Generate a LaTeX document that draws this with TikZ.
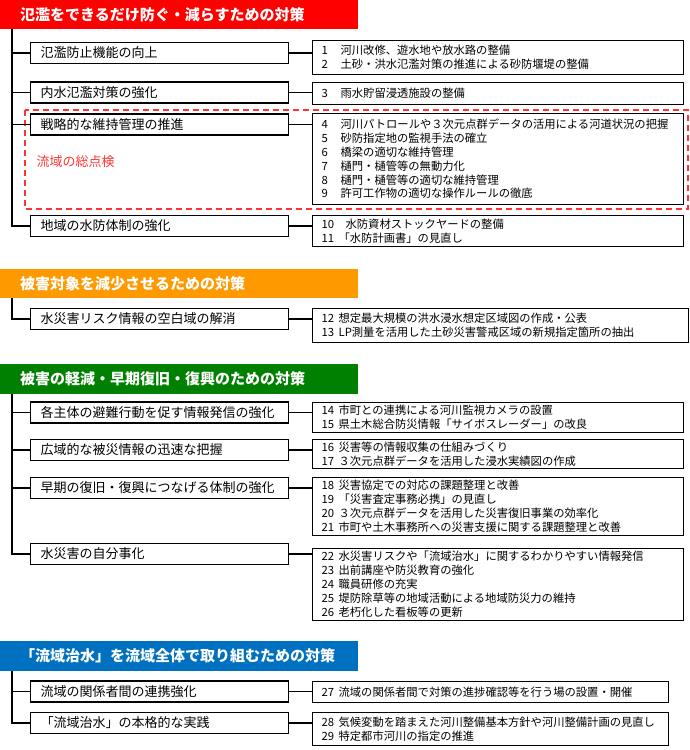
\documentclass[tikz,border=0pt]{standalone}
\usepackage{fontspec}
\setmainfont{Noto Sans CJK JP}
\usetikzlibrary{calc}
\definecolor{headred}{RGB}{255,0,0}
\definecolor{headorange}{RGB}{255,153,0}
\definecolor{headgreen}{RGB}{0,128,0}
\definecolor{headblue}{RGB}{0,112,192}
\definecolor{checkred}{RGB}{255,51,51}
\newcommand{\rowno}[2][17pt]{\makebox[#1][l]{#2}}

\begin{document}
\begin{tikzpicture}[x=1pt, y=-1pt,
    head/.style={anchor=north west, minimum width=358pt, inner xsep=20pt, inner ysep=0pt,
      text width=318pt, align=left, text=white, font=\fontsize{15}{18}\selectfont\bfseries},
    lbox/.style={draw, line width=1.3pt, anchor=west, minimum height=21pt, inner xsep=10pt,
      inner ysep=0pt, text width=238pt, align=left, font=\fontsize{13}{15}\selectfont},
    rbox/.style={draw, line width=1.3pt, anchor=north west, inner xsep=9pt, inner ysep=0pt,
      text width=353pt, align=left, font=\fontsize{11.3}{14}\selectfont},
    link/.style={line width=1.3pt}]
  \useasboundingbox (0,0) rectangle (690,750);

  % --- section 1
  \node[head, fill=headred, minimum height=29pt] (h1) at (0,0) {氾濫をできるだけ防ぐ・減らすための対策};
  \draw[checkred, line width=1.6pt, dash pattern=on 6pt off 4pt] (25,110) rectangle (688,209);
  \node[anchor=west, text=checkred, font=\fontsize{13}{15}\selectfont] (chk) at (33,162) {流域の総点検};
  \node[lbox] (lb11) at (30,53) {氾濫防止機能の向上};
  \node[lbox] (lb12) at (30,92.5) {内水氾濫対策の強化};
  \node[lbox] (lb13) at (30,124.5) {戦略的な維持管理の推進};
  \node[lbox] (lb14) at (30,226) {地域の水防体制の強化};
  \node[rbox, minimum height=34pt] (rb11) at (312,40) {\rowno[19pt]{1}河川改修、遊水地や放水路の整備\\
    \rowno[19pt]{2}土砂・洪水氾濫対策の推進による砂防堰堤の整備};
  \node[rbox, minimum height=22pt] (rb12) at (312,82) {\rowno[19pt]{3}雨水貯留浸透施設の整備};
  \node[rbox, minimum height=91pt, font=\fontsize{11.3}{13.8}\selectfont] (rb13) at (312,113) {%
    \rowno[19pt]{4}河川パトロールや３次元点群データの活用による河道状況の把握\\
    \rowno[19pt]{5}砂防指定地の監視手法の確立\\
    \rowno[19pt]{6}橋梁の適切な維持管理\\
    \rowno[19pt]{7}樋門・樋管等の無動力化\\
    \rowno[19pt]{8}樋門・樋管等の適切な維持管理\\
    \rowno[19pt]{9}許可工作物の適切な操作ルールの徹底};
  \node[rbox, minimum height=31pt] (rb14) at (312,215) {\rowno[24pt]{10}水防資材ストックヤードの整備\\
    \rowno[17pt]{11}「水防計画書」の見直し};
  \coordinate (s1) at ($(h1.south west)+(12,0)$);
  \draw[link] (s1) |- (lb14.west);
  \foreach \b in {lb11,lb12,lb13}
    \draw[link] (s1 |- \b.west) -- (\b.west);
  \foreach \b in {11,12,13,14}
    \draw[link] (lb\b.east) -- (lb\b.east -| rb\b.west);

  % --- section 2
  \node[head, fill=headorange, minimum height=29pt] (h2) at (0,269) {被害対象を減少させるための対策};
  \node[lbox] (lb21) at (30,319) {水災害リスク情報の空白域の解消};
  \node[rbox, minimum height=34pt, text width=358pt] (rb21) at (312,308) {%
    \rowno{12}想定最大規模の洪水浸水想定区域図の作成・公表\\
    \rowno{13}LP測量を活用した土砂災害警戒区域の新規指定箇所の抽出};
  \coordinate (s2) at ($(h2.south west)+(12,0)$);
  \draw[link] (s2) |- (lb21.west);
  \draw[link] (lb21.east) -- (lb21.east -| rb21.west);

  % --- section 3
  \node[head, fill=headgreen, minimum height=30pt] (h3) at (0,364) {被害の軽減・早期復旧・復興のための対策};
  \node[lbox] (lb31) at (30,412.5) {各主体の避難行動を促す情報発信の強化};
  \node[lbox] (lb32) at (30,450) {広域的な被災情報の迅速な把握};
  \node[lbox] (lb33) at (30,488) {早期の復旧・復興につなげる体制の強化};
  \node[lbox] (lb34) at (30,554) {水災害の自分事化};
  \begin{scope}[every node/.append style={font=\fontsize{10.8}{13.5}\selectfont}]
    \node[rbox, minimum height=30pt] (rb31) at (312,402) {\rowno{14}市町との連携による河川監視カメラの設置\\
      \rowno{15}県土木総合防災情報「サイボスレーダー」の改良};
    \node[rbox, minimum height=29pt] (rb32) at (312,439) {\rowno{16}災害等の情報収集の仕組みづくり\\
      \rowno{17}３次元点群データを活用した浸水実績図の作成};
    \node[rbox, minimum height=58pt] (rb33) at (312,477) {\rowno{18}災害協定での対応の課題整理と改善\\
      \rowno{19}「災害査定事務必携」の見直し\\
      \rowno{20}３次元点群データを活用した災害復旧事業の効率化\\
      \rowno{21}市町や土木事務所への災害支援に関する課題整理と改善};
    \node[rbox, minimum height=72pt] (rb34) at (312,548) {\rowno{22}水災害リスクや「流域治水」に関するわかりやすい情報発信\\
      \rowno{23}出前講座や防災教育の強化\\
      \rowno{24}職員研修の充実\\
      \rowno{25}堤防除草等の地域活動による地域防災力の維持\\
      \rowno{26}老朽化した看板等の更新};
  \end{scope}
  \coordinate (s3) at ($(h3.south west)+(12,0)$);
  \draw[link] (s3) |- (lb34.west);
  \foreach \b in {lb31,lb32,lb33}
    \draw[link] (s3 |- \b.west) -- (\b.west);
  \foreach \b in {31,32,33,34}
    \draw[link] (lb\b.east) -- (lb\b.east -| rb\b.west);

  % --- section 4
  \node[head, fill=headblue, minimum height=30pt] (h4) at (0,641) {「流域治水」を流域全体で取り組むための対策};
  \node[lbox] (lb41) at (30,691.5) {流域の関係者間の連携強化};
  \node[lbox] (lb42) at (30,723) {「流域治水」の本格的な実践};
  \node[rbox, minimum height=21pt, text width=338pt] (rb41) at (312,681) {%
    \rowno{27}流域の関係者間で対策の進捗確認等を行う場の設置・開催};
  \node[rbox, minimum height=33pt, text width=338pt] (rb42) at (312,712) {%
    \rowno{28}気候変動を踏まえた河川整備基本方針や河川整備計画の見直し\\
    \rowno{29}特定都市河川の指定の推進};
  \coordinate (s4) at ($(h4.south west)+(12,0)$);
  \draw[link] (s4) |- (lb42.west);
  \draw[link] (s4 |- lb41.west) -- (lb41.west);
  \foreach \b in {41,42}
    \draw[link] (lb\b.east) -- (lb\b.east -| rb\b.west);
\end{tikzpicture}
\end{document}
